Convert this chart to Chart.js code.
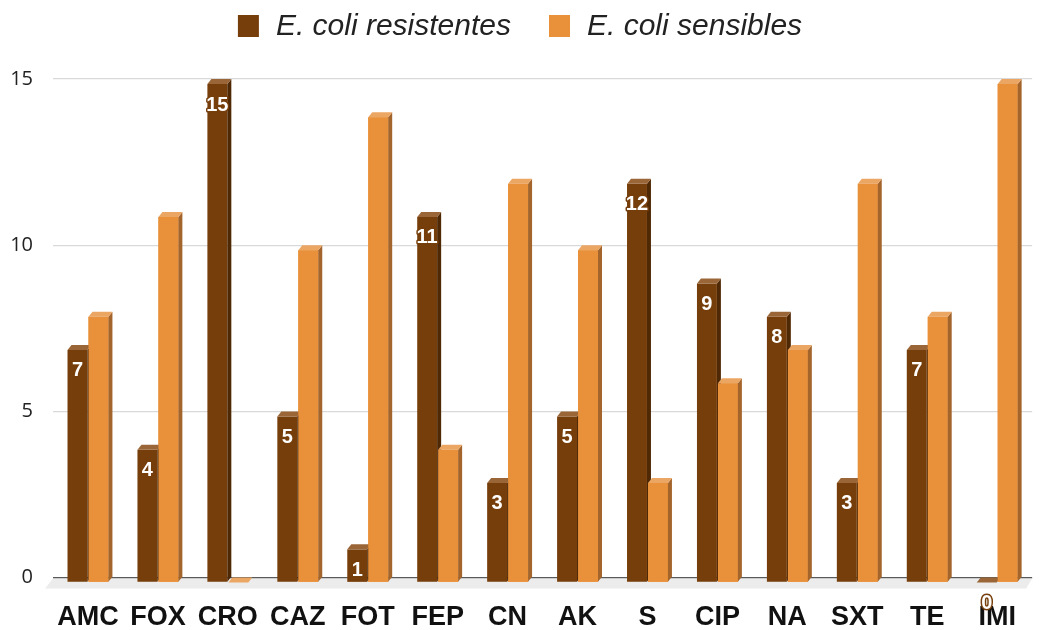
<!DOCTYPE html>
<html>
<head>
<meta charset="utf-8">
<script src="https://cdn.jsdelivr.net/npm/chart.js@4.4.0/dist/chart.umd.min.js"></script>
<style>
  html, body { margin: 0; background: #fff; }
  #contenedor { width: 1040px; height: 630px; }
</style>
</head>
<body>
<div id="contenedor"><canvas id="grafico"></canvas></div>
<script>
// --- DATOS ---
const antibioticos = ['AMC', 'FOX', 'CRO', 'CAZ', 'FOT', 'FEP', 'CN', 'AK', 'S', 'CIP', 'NA', 'SXT', 'TE', 'IMI'];
const resistentes = [7, 4, 15, 5, 1, 11, 3, 5, 12, 9, 8, 3, 7, 0];
const sensibles = [8, 11, 0, 10, 14, 4, 12, 10, 3, 6, 7, 12, 8, 15];
const ticksY = [0, 5, 10, 15];
const series = ['E. coli resistentes', 'E. coli sensibles'];

const CAFE = { front: '#763e0a', side: '#4f2806', top: '#9b6637' };
const NARANJA = { front: '#e8913a', side: '#a4652c', top: '#eca663' };
const PROF_X = 4, PROF_Y = 5; // profundidad del efecto 3D
const FUENTE = '"Liberation Sans", Arial, sans-serif';

const ctx = document.getElementById('grafico').getContext('2d');

// piso gris claro bajo la línea del cero
const pisoPlugin = {
    id: 'piso',
    beforeDatasetsDraw(chart) {
        const { ctx, chartArea } = chart;
        const y0 = chart.scales.y.getPixelForValue(0);
        ctx.save();
        ctx.fillStyle = '#ececec';
        ctx.beginPath();
        ctx.moveTo(chartArea.left, y0 + 1);
        ctx.lineTo(chartArea.right, y0 + 1);
        ctx.lineTo(chartArea.right - 6, y0 + 11);
        ctx.lineTo(chartArea.left - 8, y0 + 11);
        ctx.closePath();
        ctx.fill();
        ctx.restore();
        // las caras frontales van un poco más abajo (plano delantero)
        ctx.save();
        ctx.translate(0, PROF_Y);
    },
    afterDatasetsDraw(chart) {
        const ctx = chart.ctx;
        // caras de la serie café, luego se redibuja la naranja encima
        caras(ctx, chart.getDatasetMeta(0), CAFE);
        const metaNaranja = chart.getDatasetMeta(1);
        metaNaranja.data.forEach(bar => bar.draw(ctx));
        caras(ctx, metaNaranja, NARANJA);
        etiquetas(ctx, chart.getDatasetMeta(0));
        ctx.restore();
    }
};

function caras(ctx, meta, colores) {
    meta.data.forEach(bar => {
        const { x, y, base, width } = bar.getProps(['x', 'y', 'base', 'width'], true);
        const l = x - width / 2, r = x + width / 2;
        // lateral
        ctx.fillStyle = colores.side;
        ctx.beginPath();
        ctx.moveTo(r, y);
        ctx.lineTo(r + PROF_X, y - PROF_Y);
        ctx.lineTo(r + PROF_X, base - PROF_Y);
        ctx.lineTo(r, base);
        ctx.closePath();
        ctx.fill();
        // tapa
        ctx.fillStyle = colores.top;
        ctx.beginPath();
        ctx.moveTo(l, y);
        ctx.lineTo(l + PROF_X, y - PROF_Y);
        ctx.lineTo(r + PROF_X, y - PROF_Y);
        ctx.lineTo(r, y);
        ctx.closePath();
        ctx.fill();
    });
}

// etiquetas de valor de la serie de resistentes
function etiquetas(ctx, meta) {
    ctx.save();
    ctx.font = 'bold 20px ' + FUENTE;
    ctx.textAlign = 'center';
    ctx.textBaseline = 'middle';
    ctx.lineJoin = 'round';
    meta.data.forEach((bar, i) => {
        const { x, y } = bar.getProps(['x', 'y'], true);
        const ty = y + 21;
        ctx.lineWidth = 3;
        ctx.strokeStyle = CAFE.front;
        ctx.strokeText(String(resistentes[i]), x, ty);
        ctx.fillStyle = '#ffffff';
        ctx.fillText(String(resistentes[i]), x, ty);
    });
    ctx.restore();
}

// leyenda dibujada a mano, para controlar su posición
const leyendaPlugin = {
    id: 'leyenda',
    afterDraw(chart) {
        const ctx = chart.ctx;
        const colores = [CAFE.front, NARANJA.front];
        const caja = 21, sep = 17, hueco = 38, yc = 26;
        ctx.save();
        ctx.font = 'italic 30px ' + FUENTE;
        const anchos = series.map(s => ctx.measureText(s).width);
        const total = anchos.reduce((a, w) => a + caja + sep + w, 0) + hueco * (series.length - 1);
        let x = chart.width / 2 - total / 2;
        ctx.textBaseline = 'middle';
        series.forEach((s, i) => {
            ctx.fillStyle = colores[i];
            ctx.fillRect(x, yc - 11, caja, 22);
            x += caja + sep;
            ctx.fillStyle = '#222';
            ctx.fillText(s, x, yc + 1);
            x += anchos[i] + hueco;
        });
        ctx.restore();
    }
};

const chart = new Chart(ctx, {
    type: 'bar',
    data: {
        labels: antibioticos,
        datasets: [
            { label: series[0], data: resistentes, backgroundColor: CAFE.front, clip: false },
            { label: series[1], data: sensibles, backgroundColor: NARANJA.front, clip: false }
        ]
    },
    options: {
        responsive: true,
        maintainAspectRatio: false,
        animation: false,
        layout: { padding: { left: 0, right: 2, top: 79, bottom: -28 } },
        datasets: {
            bar: { categoryPercentage: 0.6, barPercentage: 0.95 }
        },
        scales: {
            x: {
                grid: { display: false, drawTicks: false },
                border: { display: false },
                ticks: {
                    color: '#111',
                    padding: 24,
                    maxRotation: 0,
                    minRotation: 0,
                    autoSkip: false,
                    font: { family: FUENTE, size: 27, weight: 'bold' }
                }
            },
            y: {
                min: 0,
                max: 15,
                afterBuildTicks: scale => { scale.ticks = ticksY.map(v => ({ value: v })); },
                afterFit: scale => { scale.width = 53; },
                grid: {
                    drawTicks: false,
                    color: c => c.tick && c.tick.value === 0 ? '#595959' : '#d9d9d9',
                    lineWidth: c => c.tick && c.tick.value === 0 ? 1.5 : 1.2
                },
                border: { display: false },
                ticks: {
                    color: '#222',
                    padding: 20,
                    font: { family: '"Open Sans", sans-serif', size: 20 }
                }
            }
        },
        plugins: {
            legend: { display: false },
            tooltip: { enabled: false }
        }
    },
    plugins: [pisoPlugin, leyendaPlugin]
});
</script>
</body>
</html>
